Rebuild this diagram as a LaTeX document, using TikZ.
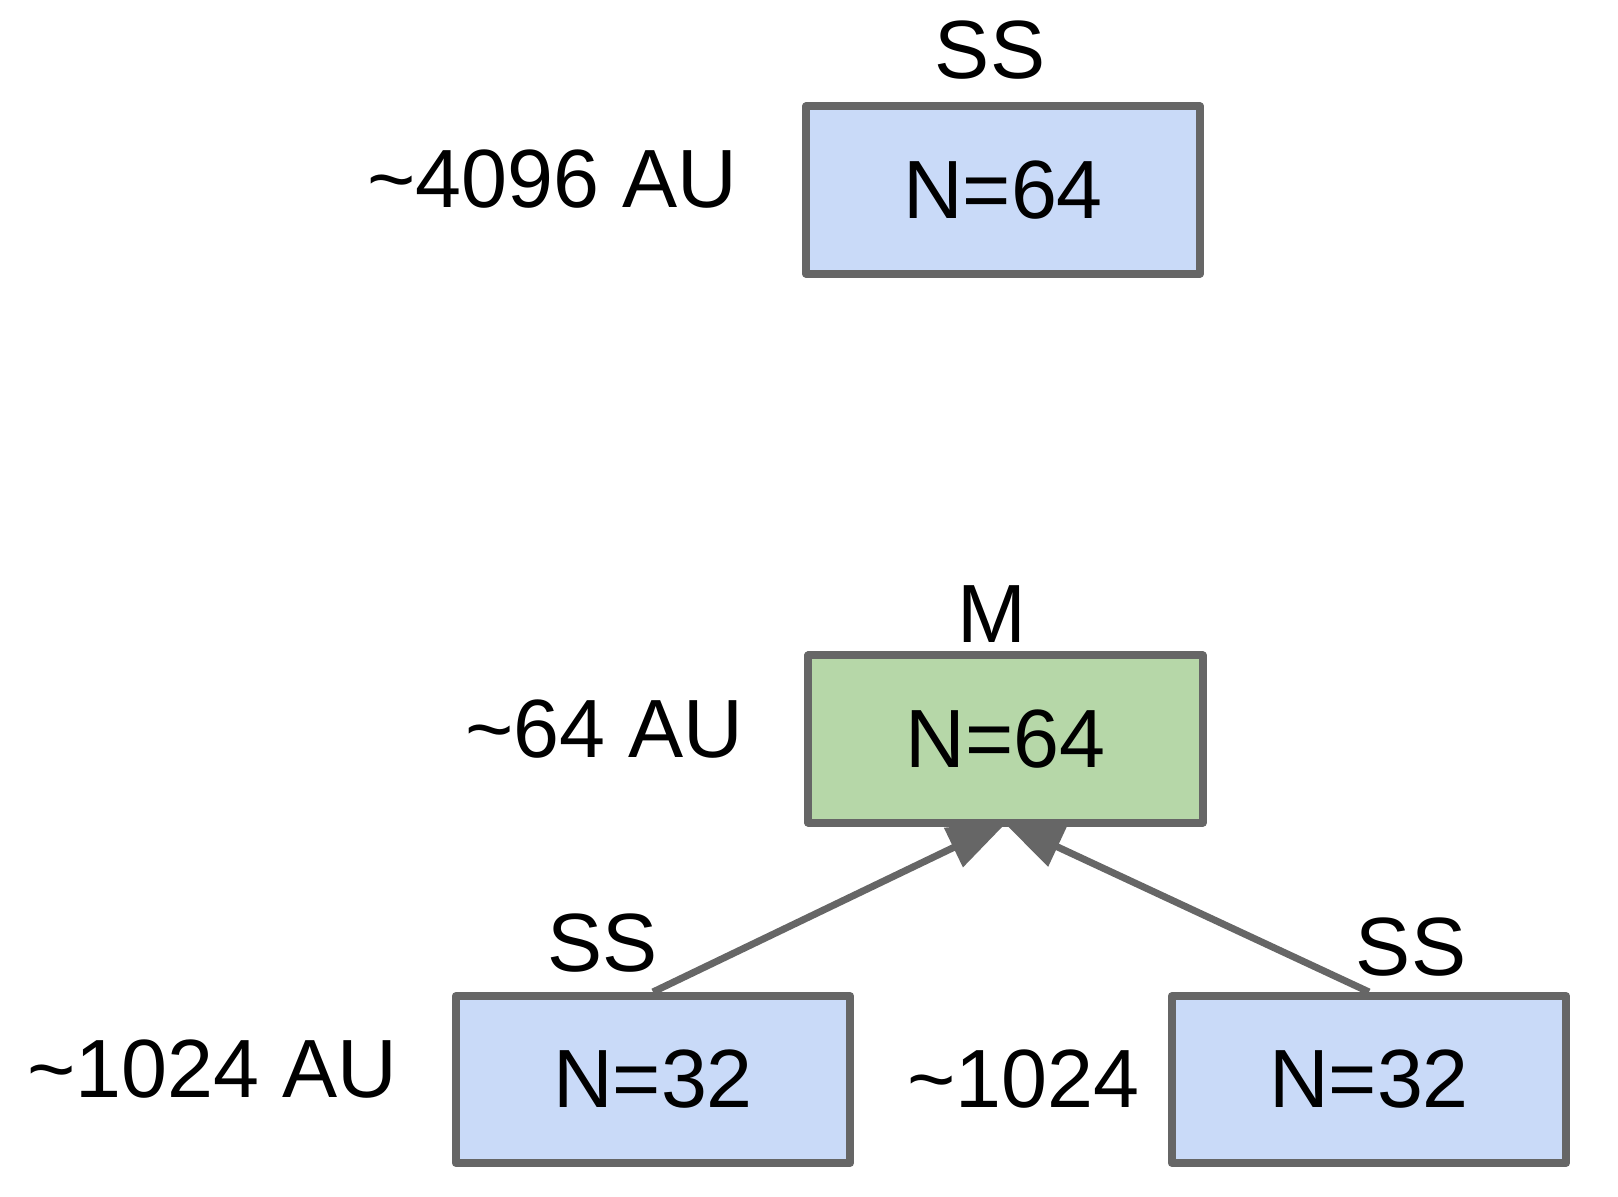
\documentclass[tikz,border=0pt]{standalone}
\usepackage{fontspec}
\setmainfont{Liberation Sans}
\usetikzlibrary{positioning, arrows.meta, backgrounds}
\definecolor{ssblue}{HTML}{C9DAF8}
\definecolor{mgreen}{HTML}{B6D7A8}
\definecolor{edgegray}{HTML}{666666}

\begin{document}
\begin{tikzpicture}[x=0.01cm, y=-0.01cm,
    cell/.style={draw=edgegray, line width=0.08cm, line join=round,
      minimum width=3.94cm, minimum height=1.67cm, inner sep=0,
      font=\fontsize{23.5}{28}\selectfont},
    lbl/.style={inner sep=0, font=\fontsize{23.5}{28}\selectfont},
    feed/.style={draw=edgegray, line width=0.07cm,
      -{Triangle[length=0.6cm, width=0.42cm]}}]
      \useasboundingbox (0,0) rectangle (1618,1196);
      \node[cell, fill=ssblue] (top) at (1003,190) {N=64};
      \node[cell, fill=mgreen] (merged) at (1005.5,739) {N=64};
      \node[cell, fill=ssblue] (ssleft) at (653,1079.5) {N=32};
      \node[cell, fill=ssblue] (ssright) at (1369,1079.5) {N=32};
      \begin{scope}[on background layer]
        \draw[feed] (ssleft.north) -- ([xshift=0.02cm, yshift=0.05cm]merged.south);
        \draw[feed] (ssright.north) -- ([xshift=-0.025cm, yshift=0.05cm]merged.south);
      \end{scope}
      \node[lbl, above=0.22cm of top, xshift=-0.13cm] (toptag) {SS};
      \node[lbl, above=0.08cm of merged, xshift=-0.135cm] (mtag) {M};
      \node[lbl, above=0.19cm of ssleft, xshift=-0.5cm] (sslefttag) {SS};
      \node[lbl, above=0.15cm of ssright, xshift=0.42cm] (ssrighttag) {SS};
      \node[lbl, left=0.64cm of top, yshift=0.11cm] (topdist) {\textasciitilde4096 AU};
      \node[lbl, left=0.6cm of merged, yshift=0.095cm] (mdist) {\textasciitilde64 AU};
      \node[lbl, left=0.54cm of ssleft, yshift=0.1cm] (ssleftdist) {\textasciitilde1024 AU};
      \node[lbl, left=0.28cm of ssright] (ssrightdist) {\textasciitilde1024};
    \end{tikzpicture}
\end{document}
